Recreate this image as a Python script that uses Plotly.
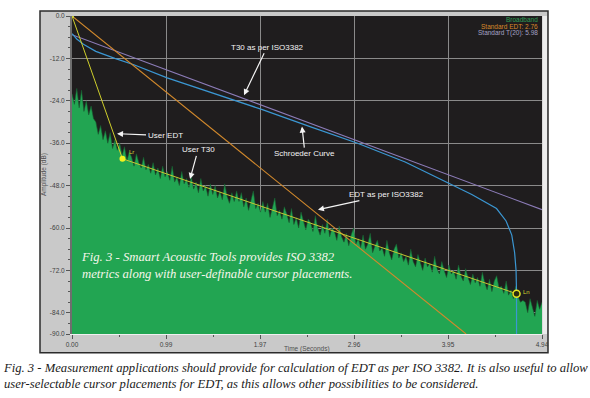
import numpy as np
import plotly.graph_objects as go

# ---------------- data ----------------
x_tickvals = [0.0, 0.9875, 1.975, 2.9625, 3.95, 4.9375]
x_ticktext = ["0.00", "0.99", "1.97", "2.96", "3.95", "4.94"]
y_tickvals = [0, -12, -24, -36, -48, -60, -72, -84, -90]
y_ticktext = ["0.0", "-12.0", "-24.0", "-36.0", "-48.0", "-60.0", "-72.0", "-84.0", "-90.0"]

# Broadband energy-time trace (dB), evenly sampled over 0 .. 4.94 s
broadband_db = [
    -22, -25, -20.5, -26, -21, -27, -24, -28, -25.5, -29,
    -30, -33.5, -31, -35, -32.5, -36, -33, -37.5, -35, -38,
    -36, -39.5, -37, -41, -38.5, -40, -42.5, -39, -41.5, -43,
    -40, -43.5, -42, -44.5, -41.5, -45, -43, -46, -42.5, -45.5,
    -44, -46.5, -42.5, -47, -45.5, -48, -44, -47.5, -46, -48.5,
    -45.5, -49, -47, -50, -46, -49.5, -48, -51, -47.5, -50.5,
    -48, -51.5, -49.5, -52, -47.5, -51, -53, -50, -52.5, -49.5,
    -52.5, -50, -54, -51.5, -55, -52, -49.5, -54.5, -53, -55.5,
    -52.5, -55.5, -53, -57, -54, -51.5, -56.5, -55, -57.5, -54,
    -56, -58.5, -54.5, -59, -57, -60, -55.5, -58, -60.5, -57.5,
    -58.5, -61, -56.5, -60, -62, -59, -61.5, -57.5, -62.5, -60,
    -61, -63.5, -59.5, -62.5, -64, -61.5, -65, -62, -60, -64.5,
    -63, -65.5, -62, -66, -64.5, -61.5, -67, -65, -63.5, -66.5,
    -65.5, -68, -63.5, -67, -69, -66, -64.5, -68.5, -67, -69.5,
    -68, -70.5, -66, -69.5, -71, -67.5, -70, -72, -68.5, -71,
    -70, -72.5, -68, -71.5, -73, -69.5, -72, -74, -70.5, -73,
    -72, -74.5, -70.5, -73.5, -75, -71.5, -74, -76, -73, -75.5,
    -74, -76.5, -72.5, -75.5, -77.5, -74.5, -78, -75, -73.5, -77,
    -76.5, -78.5, -75, -79, -77.5, -80, -76.5, -79.5, -81, -80.5,
    -81, -84, -80, -82.5, -85, -80.5, -83, -81,
]
broadband_t = np.linspace(0.0, 4.9375, len(broadband_db))

# Standard EDT regression line (EDT 2.76 s)
edt_t = [0.0, 4.14]
edt_db = [0.0, -90.0]

# Standard T(20) regression line (5.98 s)
t20_t = [0.0, 4.9375]
t20_db = [-5.3, -54.8]

# Schroeder integration curve
schroeder_t = [0.0, 0.05, 0.12, 0.25, 0.45, 0.65, 1.0, 1.5, 2.0, 2.5, 3.0, 3.5,
               3.96, 4.2, 4.46, 4.56, 4.62, 4.65, 4.665, 4.67, 4.67]
schroeder_db = [-5.0, -6.5, -8.0, -10.0, -12.0, -13.8, -17.5, -22.0, -26.5, -31.3,
                -36.0, -41.3, -47.5, -50.5, -54.5, -58.0, -62.0, -67.0, -72.0, -78.5, -90.0]

# User cursors
user_edt_t = [0.0, 0.53]
user_edt_db = [0.0, -40.4]
user_t30_t = [0.53, 4.67]
user_t30_db = [-40.4, -78.6]

# ---------------- figure ----------------
PW, PH = 470.0, 322.0  # plot area in px
L, T = 72, 12

def px(xp):
    return (xp - L) / PW

def py(yp):
    return (T + PH - yp) / PH

fig = go.Figure()

# baseline for the fill
fig.add_trace(go.Scatter(x=[0, 4.9375], y=[-90, -90], mode="lines",
                         line=dict(width=0, color="rgba(0,0,0,0)"),
                         showlegend=False, hoverinfo="skip"))
fig.add_trace(go.Scatter(x=broadband_t, y=broadband_db, mode="lines",
                         fill="tonexty", fillcolor="#22a552",
                         line=dict(color="#185e30", width=0.6),
                         showlegend=False))

fig.add_trace(go.Scatter(x=t20_t, y=t20_db, mode="lines",
                         line=dict(color="#8c7cb8", width=1.1), showlegend=False))
fig.add_trace(go.Scatter(x=schroeder_t, y=schroeder_db, mode="lines",
                         line=dict(color="#3b97d3", width=1.2), showlegend=False))
fig.add_trace(go.Scatter(x=edt_t, y=edt_db, mode="lines",
                         line=dict(color="#d2892c", width=1.1), showlegend=False))
fig.add_trace(go.Scatter(x=user_edt_t, y=user_edt_db, mode="lines",
                         line=dict(color="#cfcf2c", width=1), showlegend=False))
fig.add_trace(go.Scatter(x=user_t30_t, y=user_t30_db, mode="lines",
                         line=dict(color="#c6c632", width=1), showlegend=False))
# cursor markers
fig.add_trace(go.Scatter(x=[user_edt_t[0]], y=[user_edt_db[0]], mode="markers",
                         marker=dict(symbol="square", size=4, color="#c8c832"),
                         showlegend=False))
fig.add_trace(go.Scatter(x=[user_t30_t[0]], y=[user_t30_db[0]], mode="markers",
                         marker=dict(symbol="circle", size=6, color="#f2f21e"),
                         showlegend=False))
fig.add_trace(go.Scatter(x=[user_t30_t[1]], y=[user_t30_db[1]], mode="markers",
                         marker=dict(symbol="circle", size=7, color="#2a2a10",
                                     line=dict(color="#e6e622", width=1.5)),
                         showlegend=False))

# background frame shapes
fig.add_shape(type="rect", xref="paper", yref="paper",
              x0=px(40), x1=px(548), y0=py(353), y1=py(7),
              fillcolor="#c9c9c9", line=dict(color="#2b2b2b", width=1.5),
              layer="below")
fig.add_shape(type="rect", xref="paper", yref="paper",
              x0=0, x1=1, y0=0, y1=1,
              fillcolor="#1f1d1e", line=dict(width=0), layer="below")
fig.add_shape(type="rect", xref="paper", yref="paper",
              x0=px(542.5), x1=px(547), y0=py(334), y1=py(12),
              fillcolor="#ececec", line=dict(width=0), layer="above")

ann_font = dict(family="Liberation Sans, Arial", size=8, color="#f4f4f4")
arrows = [
    ("T30 as per ISO3382", 1.807, -22.4, 23, -48),
    ("Schroeder Curve", 2.416, -31.3, 3, 27),
    ("User EDT", 0.473, -33.3, 48, 2),
    ("User T30", 1.240, -46.1, 8, -29),
    ("EDT as per ISO3382", 2.584, -54.8, 69, -15),
]
for text, xt, yt, ax, ay in arrows:
    fig.add_annotation(x=xt, y=yt, xref="x", yref="y", text=text,
                       showarrow=True, ax=ax, ay=ay, arrowhead=2, arrowsize=1,
                       arrowwidth=1.2, arrowcolor="#f4f4f4", standoff=0,
                       font=ann_font)

# cursor labels
fig.add_annotation(x=0.578, y=-38.6, text="Lr", showarrow=False, xanchor="left",
                   yanchor="middle",
                   font=dict(family="Liberation Sans", size=6, color="#d8d830"))
fig.add_annotation(x=4.717, y=-78.0, text="Ln", showarrow=False, xanchor="left",
                   yanchor="middle",
                   font=dict(family="Liberation Sans", size=6, color="#d8d830"))

# legend-like texts at top right
leg = [("Broadband", "#2e9e55", 16), ("Standard EDT: 2.76", "#d98a2a", 22.5),
       ("Standard T(20): 5.98", "#a4a2c4", 29)]
for txt, col, yp in leg:
    fig.add_annotation(xref="paper", yref="paper", x=px(540), y=py(yp),
                       xanchor="right", yanchor="middle", text=txt, showarrow=False,
                       font=dict(family="Liberation Sans", size=6.5, color=col))

# caption inside the plot
fig.add_annotation(xref="paper", yref="paper", x=px(79), y=py(264.5),
                   xanchor="left", yanchor="middle", align="left", showarrow=False,
                   text="<i>Fig. 3 - Smaart Acoustic Tools provides ISO 3382<br>"
                        "metrics along with user-definable cursor placements.</i>",
                   font=dict(family="Liberation Serif", size=12.7, color="#f6f6ea"))

# axis titles
fig.add_annotation(xref="paper", yref="paper", x=px(44), y=0.5, textangle=-90,
                   xanchor="center", yanchor="middle",
                   text="Amplitude (dB)", showarrow=False,
                   font=dict(family="Liberation Sans", size=6.5, color="#505050"))
fig.add_annotation(xref="paper", yref="paper", x=px(307), y=py(349.5),
                   xanchor="center", yanchor="middle",
                   text="Time (Seconds)", showarrow=False,
                   font=dict(family="Liberation Sans", size=6.5, color="#505050"))

# bottom caption
fig.add_annotation(xref="paper", yref="paper", x=px(1), y=py(377),
                   xanchor="left", yanchor="middle", align="left", showarrow=False,
                   text="<i>Fig. 3 - Measurement applications should provide for calculation of EDT as per ISO 3382. It is also useful to allow<br>"
                        "user-selectable cursor placements for EDT, as this allows other possibilities to be considered.</i>",
                   font=dict(family="Liberation Serif", size=12.65, color="#1a1a1a"))

fig.update_layout(
    width=590, height=398, autosize=False,
    margin=dict(l=L, r=590 - L - int(PW), t=T, b=398 - T - int(PH), pad=0),
    paper_bgcolor="white", plot_bgcolor="#1f1d1e",
    showlegend=False,
    xaxis=dict(range=[0, 4.9375], tickmode="array", tickvals=x_tickvals,
               ticktext=x_ticktext, showgrid=True, gridcolor="#8a8a8a", gridwidth=1,
               zeroline=False, ticks="outside", ticklen=4, tickcolor="#555555",
               tickfont=dict(family="Liberation Sans", size=6.5, color="#404040"),
               showline=True, linecolor="#f0f0f0", linewidth=1,
               minor=dict(tickmode="linear", tick0=0, dtick=0.49375, ticklen=2,
                          tickcolor="#555555", showgrid=False),
               fixedrange=True),
    yaxis=dict(range=[-90, 0], tickmode="array", tickvals=y_tickvals,
               ticktext=y_ticktext, showgrid=True, gridcolor="#8a8a8a", gridwidth=1,
               zeroline=False, ticks="outside", ticklen=4, tickcolor="#555555",
               tickfont=dict(family="Liberation Sans", size=6.5, color="#404040"),
               showline=True, linecolor="#6e6e6e", linewidth=2,
               minor=dict(tickmode="linear", tick0=0, dtick=3, ticklen=2,
                          tickcolor="#555555", showgrid=False),
               fixedrange=True),
)

fig.write_html("out.html", config={"displayModeBar": False},
               post_script="document.body.style.margin='0';document.body.style.overflow='hidden';")
